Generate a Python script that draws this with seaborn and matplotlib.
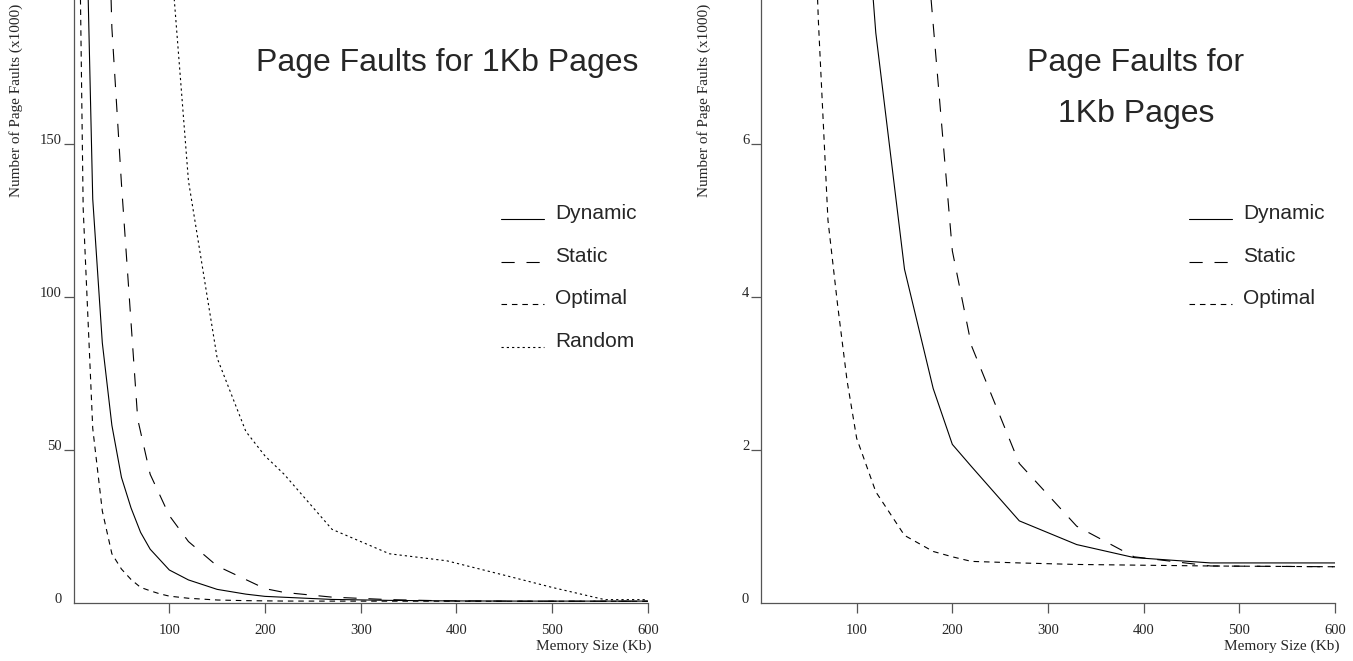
import numpy as np
import pandas as pd
import seaborn as sns
import matplotlib.pyplot as plt
from matplotlib.legend_handler import HandlerLine2D

# memory size (Kb) / page faults (x1000)
dyn_x = [10, 20, 30, 40, 50, 60, 70, 80, 100, 120, 150, 180, 200, 220, 270, 330, 390, 470, 600]
dyn_y = [270, 132, 85, 58, 41, 31, 23, 17.5, 10.7, 7.45, 4.36, 2.8, 2.07, 1.78, 1.07, 0.76, 0.59, 0.52, 0.52]

sta_x = [30, 40, 50, 67, 80, 100, 120, 150, 200, 220, 270, 330, 390, 470, 600]
sta_y = [300, 188, 137, 60, 42, 28.5, 20, 12, 4.6, 3.36, 1.82, 1.0, 0.6, 0.48, 0.47]

opt_x = [5, 10, 20, 30, 40, 50, 60, 70, 80, 90, 100, 120, 150, 180, 200, 220, 270, 330, 470, 600]
opt_y = [250, 129, 57, 30, 16, 11, 7.6, 5.0, 3.9, 2.9, 2.15, 1.45, 0.88, 0.67, 0.6, 0.54, 0.52, 0.5, 0.48, 0.47]

rnd_x = [100, 120, 150, 180, 200, 220, 270, 330, 390, 450, 500, 555, 600]
rnd_y = [218, 138, 80, 56, 48, 42, 24, 16, 13.7, 9, 5, 1.0, 1.0]

x_ticks = [100, 200, 300, 400, 500, 600]
left_yticks = [0, 50, 100, 150]
right_yticks = [0, 2, 4, 6]

styles = {
    "Dynamic": "-",
    "Static": (0, (9.5, 8.5)),
    "Optimal": (0, (4, 3.5)),
    "Random": (0, (1.6, 2.2)),
}

sns.set_style("ticks")
plt.rcParams["font.family"] = ["Liberation Serif", "DejaVu Serif"]
plt.rcParams["lines.scale_dashes"] = False
plt.rcParams["axes.edgecolor"] = "#555555"
plt.rcParams["axes.linewidth"] = 0.9

W, H = 1353, 661
fig = plt.figure(figsize=(W / 100, H / 100), dpi=100)
ax1 = fig.add_axes([73.6 / W, 58.3 / H, 574.2 / W, 602.7 / H])
ax2 = fig.add_axes([761 / W, 58.3 / H, 574 / W, 602.7 / H])


class BaselineHandler(HandlerLine2D):
    # put the sample line on the text baseline, like the original
    def create_artists(self, legend, orig_handle, xdescent, ydescent, width, height, fontsize, trans):
        arts = super().create_artists(legend, orig_handle, xdescent, ydescent, width, height, fontsize, trans)
        for a in arts:
            a.set_ydata(np.zeros(len(a.get_ydata())))
        return arts


def draw(ax, series, ymax, yticks, ylabels):
    for name, xs, ys in series:
        sns.lineplot(x=xs, y=ys, ax=ax, color="black", linewidth=0.8,
                     linestyle=styles[name], label=name, sort=False)
    ax.set_xlim(0, 600)
    ax.set_ylim(0, ymax)
    ax.set_xticks(x_ticks, labels=[str(t) for t in x_ticks])
    ax.set_yticks(yticks, labels=ylabels, va="baseline")
    ax.tick_params(axis="both", direction="out", length=7.5, width=0.9,
                   color="#555555", labelsize=10.5)
    ax.tick_params(axis="x", pad=8)
    ax.tick_params(axis="y", pad=1)
    ax.yaxis.get_major_ticks()[0].tick1line.set_visible(False)
    ax.set_xlabel("")
    ax.set_ylabel("")
    sns.despine(ax=ax)


draw(ax1, [("Dynamic", dyn_x, dyn_y), ("Static", sta_x, sta_y),
           ("Optimal", opt_x, opt_y), ("Random", rnd_x, rnd_y)],
     197.1, left_yticks, ["0", "50", "100", "150"])
draw(ax2, [("Dynamic", dyn_x, dyn_y), ("Static", sta_x, sta_y),
           ("Optimal", opt_x, opt_y)],
     7.88, right_yticks, ["0", "2", "4", "6"])

for ax, lx in [(ax1, 500.7), (ax2, 1189)]:
    handles, labels = ax.get_legend_handles_labels()
    ax.legend(handles, labels, loc="upper left", bbox_to_anchor=(lx / W, 1 - 204 / H),
              bbox_transform=fig.transFigure, frameon=False, borderpad=0, borderaxespad=0,
              handlelength=2.07, handletextpad=0.53, labelspacing=1.13,
              prop={"family": "Liberation Sans", "size": 15},
              handler_map={h: BaselineHandler() for h in handles})

# titles
fig.text(447.5 / W, 1 - 70.7 / H, "Page Faults for 1Kb Pages", ha="center", va="baseline",
         fontsize=23, family="Liberation Sans")
fig.text(1136 / W, 1 - 70.7 / H, "Page Faults for", ha="center", va="baseline",
         fontsize=23, family="Liberation Sans")
fig.text(1136 / W, 1 - 122 / H, "1Kb Pages", ha="center", va="baseline",
         fontsize=23, family="Liberation Sans")

# axis labels
for xr, yl in [(652, 16.5), (1340, 704.5)]:
    fig.text(xr / W, 1 - 650 / H, "Memory Size (Kb)", ha="right", va="baseline", fontsize=11)
    fig.text(yl / W, 1 - 197 / H, "Number of Page Faults (x1000)", rotation=90,
             ha="center", va="bottom", fontsize=11)

fig.savefig("out.png", dpi=100)
